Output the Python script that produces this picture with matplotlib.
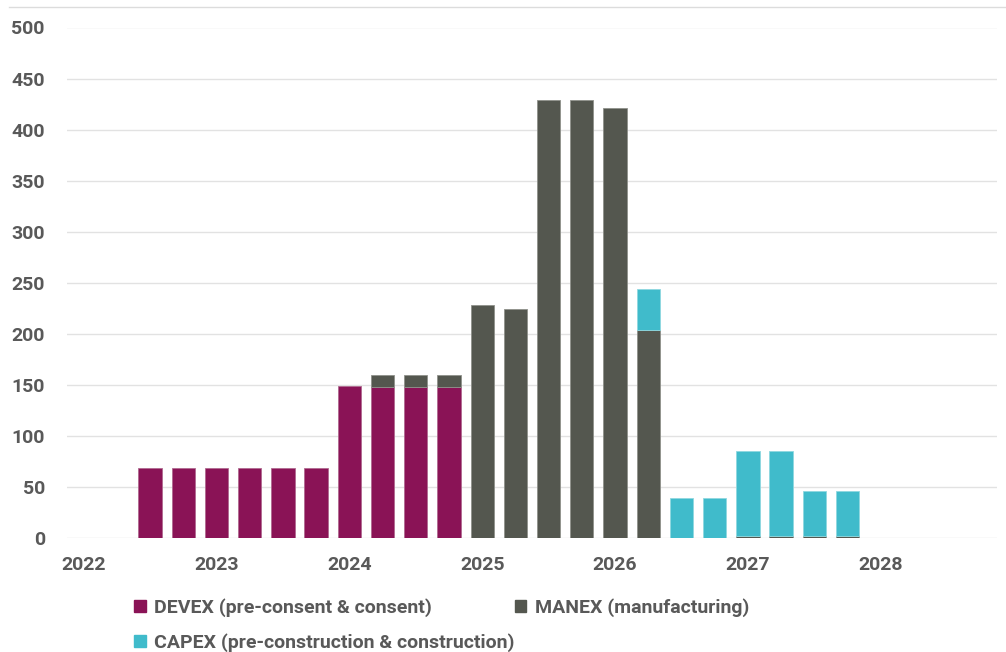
import numpy as np
import matplotlib.pyplot as plt
from matplotlib.lines import Line2D

plt.rcParams['font.family'] = ['Roboto', 'DejaVu Sans']

# quarterly slots 2022 Q1 .. 2028 Q4
years = ['2022', '2023', '2024', '2025', '2026', '2027', '2028']
n_quarters = 28

devex = [0, 0, 69, 69, 69, 69, 69, 69,
         149, 148, 148, 148, 0, 0, 0, 0,
         0, 0, 0, 0, 0, 0, 0, 0,
         0, 0, 0, 0]
manex = [0, 0, 0, 0, 0, 0, 0, 0,
         0, 12, 12, 12, 228, 224, 429, 429,
         421, 204, 0, 0, 2, 2, 2, 2,
         0, 0, 0, 0]
capex = [0, 0, 0, 0, 0, 0, 0, 0,
         0, 0, 0, 0, 0, 0, 0, 0,
         0, 40, 39, 39, 83, 83, 44, 44,
         0, 0, 0, 0]

c_devex = '#8A1356'
c_manex = '#54574F'
c_capex = '#40BBCB'
txt = '#595959'

x = np.arange(n_quarters)
devex = np.array(devex, dtype=float)
manex = np.array(manex, dtype=float)
capex = np.array(capex, dtype=float)


def stack(vals, bottom, color, edge):
    # skip empty quarters so no edge line is drawn on the baseline
    m = vals > 0
    ax.bar(x[m], vals[m], 0.7, bottom=bottom[m], color=color,
           edgecolor=edge, linewidth=0.6, zorder=3)


fig = plt.figure(figsize=(10.06, 6.52), dpi=100)
ax = fig.add_axes([67/1006, 1 - 538/652, 930/1006, (538 - 27.5)/652])

zero = np.zeros(n_quarters)
stack(devex, zero, c_devex, '#b06a90')
stack(manex, devex, c_manex, '#8f918b')
stack(capex, devex + manex, c_capex, '#8fd8e0')

ax.set_xlim(-0.5, n_quarters - 0.5)
ax.set_ylim(0, 500)
ax.set_yticks(range(0, 501, 50))
ax.set_xticks(np.arange(0, n_quarters, 4))
ax.set_xticklabels(years)

ax.grid(axis='y', color='#e2e2e2', linewidth=1, zorder=0)
for s in ax.spines.values():
    s.set_visible(False)
ax.tick_params(length=0, labelsize=14, labelcolor=txt)
ax.tick_params(axis='x', pad=13)
ax.tick_params(axis='y', pad=16)
for lab in ax.get_xticklabels() + ax.get_yticklabels():
    lab.set_fontweight('bold')

# thin rule along the top of the chart
fig.add_artist(Line2D([9/1006, 1], [1 - 7/652, 1 - 7/652], color='#dcdcdc', linewidth=1))

handles = [plt.Rectangle((0, 0), 1, 1, color=c_devex),
           plt.Rectangle((0, 0), 1, 1, color=c_capex),
           plt.Rectangle((0, 0), 1, 1, color=c_manex)]
labels = ['DEVEX (pre-consent & consent)',
          'CAPEX (pre-construction & construction)',
          'MANEX (manufacturing)']
leg = fig.legend(handles, labels, ncol=2, loc='upper left',
                 bbox_to_anchor=(130/1006, 1 - 594/652), frameon=False,
                 borderaxespad=0, borderpad=0.2,
                 handlelength=0.6, handleheight=0.6, handletextpad=0.45,
                 columnspacing=0.0, labelspacing=0.86,
                 prop={'size': 14, 'weight': 'bold'})
for t in leg.get_texts():
    t.set_color(txt)

fig.savefig('out.png', dpi=100)
